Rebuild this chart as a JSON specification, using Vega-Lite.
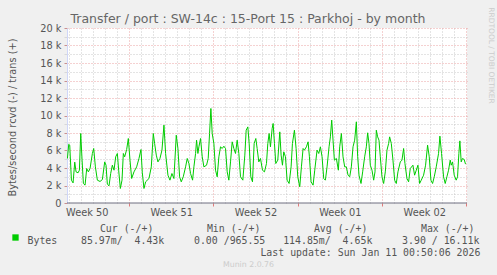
{
  "$schema": "https://vega.github.io/schema/vega-lite/v6.json",
  "width": 400,
  "height": 175,
  "autosize": {"type": "none"},
  "padding": {"left": 67, "top": 28, "right": 30, "bottom": 72},
  "background": "#f0f0f0",
  "config": {"view": {"fill": "white", "stroke": null}, "font": "DejaVu Sans"},
  "title": {
    "text": "Transfer / port : SW-14c : 15-Port 15 : Parkhoj - by month",
    "font": "DejaVu Sans", "fontSize": 12.5, "fontWeight": "normal", "color": "#666666",
    "anchor": "middle", "dx": -19, "offset": -19
  },
  "data": {"values": [
    {"d":1.889,"bytes":5090},{"d":2.000,"bytes":6720},{"d":2.083,"bytes":6610},{"d":2.221,"bytes":2610},{"d":2.359,"bytes":2300},{"d":2.497,"bytes":4670},{"d":2.607,"bytes":3560},{"d":2.773,"bytes":3450},{"d":2.884,"bytes":3750},{"d":2.994,"bytes":7940},{"d":3.105,"bytes":4900},{"d":3.215,"bytes":2230},{"d":3.353,"bytes":2040},{"d":3.491,"bytes":3940},{"d":3.630,"bytes":3560},{"d":3.768,"bytes":3940},{"d":3.961,"bytes":5660},{"d":4.072,"bytes":6230},{"d":4.210,"bytes":4130},{"d":4.375,"bytes":2610},{"d":4.596,"bytes":2460},{"d":4.790,"bytes":2680},{"d":4.983,"bytes":4700},{"d":5.094,"bytes":4320},{"d":5.204,"bytes":2150},{"d":5.342,"bytes":1960},{"d":5.480,"bytes":3370},{"d":5.619,"bytes":4320},{"d":5.757,"bytes":3750},{"d":5.895,"bytes":5280},{"d":6.033,"bytes":5660},{"d":6.143,"bytes":3750},{"d":6.282,"bytes":1660},{"d":6.420,"bytes":2610},{"d":6.530,"bytes":5660},{"d":6.641,"bytes":5280},{"d":6.806,"bytes":6110},{"d":6.944,"bytes":7370},{"d":7.083,"bytes":4900},{"d":7.221,"bytes":2800},{"d":7.414,"bytes":3560},{"d":7.635,"bytes":4130},{"d":7.828,"bytes":5090},{"d":7.994,"bytes":6110},{"d":8.105,"bytes":3450},{"d":8.243,"bytes":1660},{"d":8.381,"bytes":2420},{"d":8.657,"bytes":2800},{"d":8.851,"bytes":4130},{"d":9.016,"bytes":7940},{"d":9.127,"bytes":6800},{"d":9.265,"bytes":5470},{"d":9.403,"bytes":4700},{"d":9.569,"bytes":5090},{"d":9.735,"bytes":6040},{"d":9.900,"bytes":8900},{"d":10.038,"bytes":5660},{"d":10.232,"bytes":3180},{"d":10.398,"bytes":2610},{"d":10.563,"bytes":3370},{"d":10.729,"bytes":2800},{"d":10.922,"bytes":7750},{"d":11.061,"bytes":6230},{"d":11.199,"bytes":2990},{"d":11.337,"bytes":2420},{"d":11.503,"bytes":2990},{"d":11.696,"bytes":4130},{"d":11.834,"bytes":5090},{"d":11.972,"bytes":4510},{"d":12.110,"bytes":3370},{"d":12.276,"bytes":2610},{"d":12.386,"bytes":4130},{"d":12.525,"bytes":5660},{"d":12.607,"bytes":7180},{"d":12.718,"bytes":5660},{"d":12.801,"bytes":6420},{"d":12.939,"bytes":7370},{"d":13.077,"bytes":5280},{"d":13.215,"bytes":4130},{"d":13.436,"bytes":4320},{"d":13.574,"bytes":5090},{"d":13.685,"bytes":7940},{"d":13.795,"bytes":10800},{"d":13.906,"bytes":7940},{"d":14.044,"bytes":6800},{"d":14.182,"bytes":3750},{"d":14.320,"bytes":2990},{"d":14.458,"bytes":5280},{"d":14.596,"bytes":6420},{"d":14.735,"bytes":6230},{"d":14.873,"bytes":6490},{"d":15.011,"bytes":6230},{"d":15.149,"bytes":3560},{"d":15.287,"bytes":2610},{"d":15.425,"bytes":4700},{"d":15.563,"bytes":6990},{"d":15.701,"bytes":6230},{"d":15.840,"bytes":5660},{"d":15.978,"bytes":7180},{"d":16.116,"bytes":5660},{"d":16.254,"bytes":2990},{"d":16.447,"bytes":2610},{"d":16.613,"bytes":5470},{"d":16.723,"bytes":8320},{"d":16.862,"bytes":8700},{"d":16.972,"bytes":6800},{"d":17.110,"bytes":2990},{"d":17.248,"bytes":2420},{"d":17.386,"bytes":6800},{"d":17.525,"bytes":7370},{"d":17.635,"bytes":6230},{"d":17.773,"bytes":4700},{"d":17.911,"bytes":5090},{"d":18.077,"bytes":3750},{"d":18.243,"bytes":3560},{"d":18.409,"bytes":4510},{"d":18.519,"bytes":6800},{"d":18.630,"bytes":7940},{"d":18.740,"bytes":6420},{"d":18.878,"bytes":8510},{"d":18.961,"bytes":9090},{"d":19.072,"bytes":6800},{"d":19.182,"bytes":4510},{"d":19.348,"bytes":4900},{"d":19.514,"bytes":8130},{"d":19.624,"bytes":5470},{"d":19.735,"bytes":4320},{"d":19.845,"bytes":5850},{"d":19.983,"bytes":5280},{"d":20.121,"bytes":2610},{"d":20.287,"bytes":2230},{"d":20.453,"bytes":4130},{"d":20.563,"bytes":6800},{"d":20.729,"bytes":8320},{"d":20.867,"bytes":6230},{"d":21.005,"bytes":2990},{"d":21.171,"bytes":1850},{"d":21.309,"bytes":4130},{"d":21.447,"bytes":6230},{"d":21.558,"bytes":6040},{"d":21.723,"bytes":6420},{"d":21.862,"bytes":6990},{"d":21.972,"bytes":5280},{"d":22.110,"bytes":2420},{"d":22.276,"bytes":2040},{"d":22.414,"bytes":3750},{"d":22.607,"bytes":6040},{"d":22.746,"bytes":5660},{"d":22.884,"bytes":6420},{"d":23.022,"bytes":5280},{"d":23.160,"bytes":2800},{"d":23.298,"bytes":2610},{"d":23.436,"bytes":4130},{"d":23.602,"bytes":6420},{"d":23.712,"bytes":7560},{"d":23.823,"bytes":9470},{"d":23.933,"bytes":7180},{"d":24.044,"bytes":4900},{"d":24.210,"bytes":5090},{"d":24.375,"bytes":3750},{"d":24.486,"bytes":6420},{"d":24.624,"bytes":7940},{"d":24.762,"bytes":5280},{"d":24.900,"bytes":4130},{"d":25.038,"bytes":4130},{"d":25.177,"bytes":3180},{"d":25.315,"bytes":2990},{"d":25.453,"bytes":4130},{"d":25.591,"bytes":6420},{"d":25.729,"bytes":7180},{"d":25.867,"bytes":9280},{"d":25.978,"bytes":5280},{"d":26.088,"bytes":3180},{"d":26.254,"bytes":2230},{"d":26.392,"bytes":3560},{"d":26.558,"bytes":5280},{"d":26.696,"bytes":6420},{"d":26.806,"bytes":8020},{"d":26.917,"bytes":6800},{"d":27.027,"bytes":4320},{"d":27.165,"bytes":3750},{"d":27.304,"bytes":2610},{"d":27.414,"bytes":3560},{"d":27.525,"bytes":8320},{"d":27.635,"bytes":7560},{"d":27.746,"bytes":7180},{"d":27.856,"bytes":5280},{"d":27.994,"bytes":2990},{"d":28.132,"bytes":2230},{"d":28.270,"bytes":3560},{"d":28.409,"bytes":6040},{"d":28.547,"bytes":6800},{"d":28.630,"bytes":7560},{"d":28.768,"bytes":6800},{"d":28.906,"bytes":4900},{"d":29.044,"bytes":2610},{"d":29.182,"bytes":2230},{"d":29.320,"bytes":3560},{"d":29.514,"bytes":4700},{"d":29.652,"bytes":4900},{"d":29.790,"bytes":6230},{"d":29.900,"bytes":4510},{"d":30.066,"bytes":2800},{"d":30.204,"bytes":2420},{"d":30.342,"bytes":3940},{"d":30.563,"bytes":4320},{"d":30.701,"bytes":3180},{"d":30.840,"bytes":3750},{"d":30.978,"bytes":4320},{"d":31.116,"bytes":2230},{"d":31.254,"bytes":2610},{"d":31.447,"bytes":3180},{"d":31.613,"bytes":4320},{"d":31.779,"bytes":6610},{"d":31.917,"bytes":5280},{"d":32.055,"bytes":2610},{"d":32.193,"bytes":2230},{"d":32.331,"bytes":2990},{"d":32.497,"bytes":4130},{"d":32.690,"bytes":5660},{"d":32.801,"bytes":7640},{"d":32.939,"bytes":5660},{"d":33.105,"bytes":2990},{"d":33.243,"bytes":2230},{"d":33.381,"bytes":2990},{"d":33.519,"bytes":3750},{"d":33.657,"bytes":4900},{"d":33.740,"bytes":4320},{"d":33.851,"bytes":4700},{"d":33.989,"bytes":3180},{"d":34.154,"bytes":2610},{"d":34.265,"bytes":2990},{"d":34.375,"bytes":5660},{"d":34.458,"bytes":7100},{"d":34.569,"bytes":4700},{"d":34.679,"bytes":5090},{"d":34.817,"bytes":4970},{"d":34.928,"bytes":4440}
  ]},
  "layer": [
    {
      "mark": {"type": "line", "strokeWidth": 1, "interpolate": "linear"},
      "encoding": {
        "x": {
          "field": "d", "type": "quantitative",
          "scale": {"domain": [1.855, 35.05], "nice": false, "zero": false},
          "axis": {
            "orient": "bottom",
            "values": [2,3,4,5,6,7,8,9,10,11,12,13,14,15,16,17,18,19,20,21,22,23,24,25,26,27,28,29,30,31,32,33,34,35,3.5,10.5,17.5,24.5,31.5],
            "grid": true,
            "gridColor": {"condition": {"test": "datum.value % 7 === 0", "value": "#eba3a3"}, "value": "#c8c8c8"},
            "gridOpacity": {"condition": {"test": "datum.value % 1 !== 0", "value": 0}, "value": 1},
            "gridDash": [1, 2],
            "gridWidth": 1,
            "domain": false,
            "ticks": true,
            "tickSize": 3,
            "tickColor": "#e07a7a",
            "tickOpacity": {"condition": {"test": "datum.value % 7 === 0", "value": 1}, "value": 0},
            "labelExpr": "datum.value === 3.5 ? 'Week 50' : datum.value === 10.5 ? 'Week 51' : datum.value === 17.5 ? 'Week 52' : datum.value === 24.5 ? 'Week 01' : datum.value === 31.5 ? 'Week 02' : ''",
            "labelOverlap": false,
            "labelFlush": false,
            "labelBound": false,
            "labelFont": "DejaVu Sans",
            "labelFontSize": 9.8,
            "labelColor": "#555555",
            "labelPadding": 1,
            "title": [
              "\u2800\u00a0\u00a0\u00a0\u00a0\u00a0\u00a0\u00a0\u00a0\u00a0\u00a0\u00a0Cur (-/+)\u00a0\u00a0\u00a0\u00a0\u00a0\u00a0\u00a0\u00a0\u00a0Min (-/+)\u00a0\u00a0\u00a0\u00a0\u00a0\u00a0\u00a0\u00a0\u00a0Avg (-/+)\u00a0\u00a0\u00a0\u00a0\u00a0\u00a0\u00a0\u00a0\u00a0Max (-/+)",
              "Bytes\u00a0\u00a0\u00a0\u00a085.97m/\u00a0\u00a04.43k\u00a0\u00a0\u00a0\u00a0\u00a00.00 /965.55\u00a0\u00a0\u00a0114.85m/\u00a0\u00a04.65k\u00a0\u00a0\u00a0\u00a0\u00a03.90 / 16.11k",
              "\u2800\u00a0\u00a0\u00a0\u00a0\u00a0\u00a0\u00a0\u00a0\u00a0\u00a0\u00a0\u00a0\u00a0\u00a0\u00a0\u00a0\u00a0\u00a0\u00a0\u00a0\u00a0\u00a0\u00a0\u00a0\u00a0\u00a0\u00a0\u00a0\u00a0\u00a0\u00a0\u00a0\u00a0\u00a0\u00a0\u00a0\u00a0\u00a0Last update: Sun Jan 11 00:50:06 2026"
            ],
            "titleFont": "DejaVu Sans Mono",
            "titleFontSize": 9.9,
            "titleFontWeight": "normal",
            "titleColor": "#555555",
            "titleAlign": "left",
            "titleAnchor": null,
            "titleBaseline": "top",
            "titleLineHeight": 12,
            "titleX": -40,
            "titleY": 20
          }
        },
        "y": {
          "field": "bytes", "type": "quantitative",
          "scale": {"domain": [0, 20000], "nice": false},
          "axis": {
            "orient": "left",
            "values": [0,1000,2000,3000,4000,5000,6000,7000,8000,9000,10000,11000,12000,13000,14000,15000,16000,17000,18000,19000,20000],
            "grid": true,
            "gridColor": {"condition": {"test": "datum.value % 2000 === 0", "value": "#eba3a3"}, "value": "#c8c8c8"},
            "gridOpacity": {"condition": {"test": "datum.value === 0", "value": 0}, "value": 1},
            "gridDash": [1, 2],
            "domain": true,
            "domainColor": "#cfd6f8",
            "ticks": true,
            "tickSize": 3,
            "tickColor": {"condition": {"test": "datum.value % 2000 === 0", "value": "#c89090"}, "value": "#d8d8d8"},
            "labelExpr": "datum.value % 2000 !== 0 ? '' : datum.value === 0 ? '0' : (datum.value / 1000) + ' k'",
            "labelOverlap": false,
            "labelFlush": false,
            "labelBound": false,
            "labelFont": "DejaVu Sans",
            "labelFontSize": 9.8,
            "labelColor": "#555555",
            "labelPadding": 3,
            "title": "Bytes/second rcvd (-) / trans (+)",
            "titleFont": "DejaVu Sans",
            "titleFontSize": 9.8,
            "titleFontWeight": "normal",
            "titleColor": "#555555",
            "titleAngle": -90,
            "titleAlign": "center",
            "titleBaseline": "middle",
            "titleX": -55,
            "titleY": 89
          }
        },
        "color": {
          "datum": "Bytes", "type": "nominal",
          "scale": {"range": ["#00cc00"]},
          "legend": {
            "orient": "none", "legendX": -55, "legendY": 206, "title": null,
            "symbolType": "square", "symbolSize": 40, "symbolFillColor": "#00cc00", "symbolStrokeColor": "#00cc00", "symbolStrokeWidth": 0,
            "labelExpr": "''", "labelFontSize": 1, "labelOffset": 0, "padding": 0
          }
        }
      }
    },
    {
      "data": {"values": [{"line": "zero"}]},
      "mark": {"type": "rule", "color": "#6e6e80", "strokeWidth": 1},
      "encoding": {
        "x": {
          "datum": 1.855, "type": "quantitative",
          "axis": {
            "orient": "bottom", "grid": false, "domain": false, "ticks": false, "labels": false,
            "title": "Munin 2.0.76", "titleFont": "DejaVu Sans", "titleFontSize": 7.8, "titleFontWeight": "normal",
            "titleColor": "#cccccc", "titleAlign": "center", "titleBaseline": "middle", "titleAnchor": null,
            "titleX": 181, "titleY": 61
          }
        },
        "x2": {"datum": 35.05},
        "y": {
          "datum": 0, "type": "quantitative",
          "axis": {
            "orient": "right", "grid": false, "domain": false, "ticks": false, "labels": false,
            "title": "RRDTOOL / TOBI OETIKER", "titleFont": "DejaVu Sans", "titleFontSize": 7.5, "titleFontWeight": "normal",
            "titleColor": "#cccccc", "titleAngle": 90, "titleAlign": "center", "titleBaseline": "middle", "titleAnchor": null,
            "titleX": 23, "titleY": 27
          }
        }
      }
    }
  ],
  "resolve": {"axis": {"x": "independent", "y": "independent"}}
}
